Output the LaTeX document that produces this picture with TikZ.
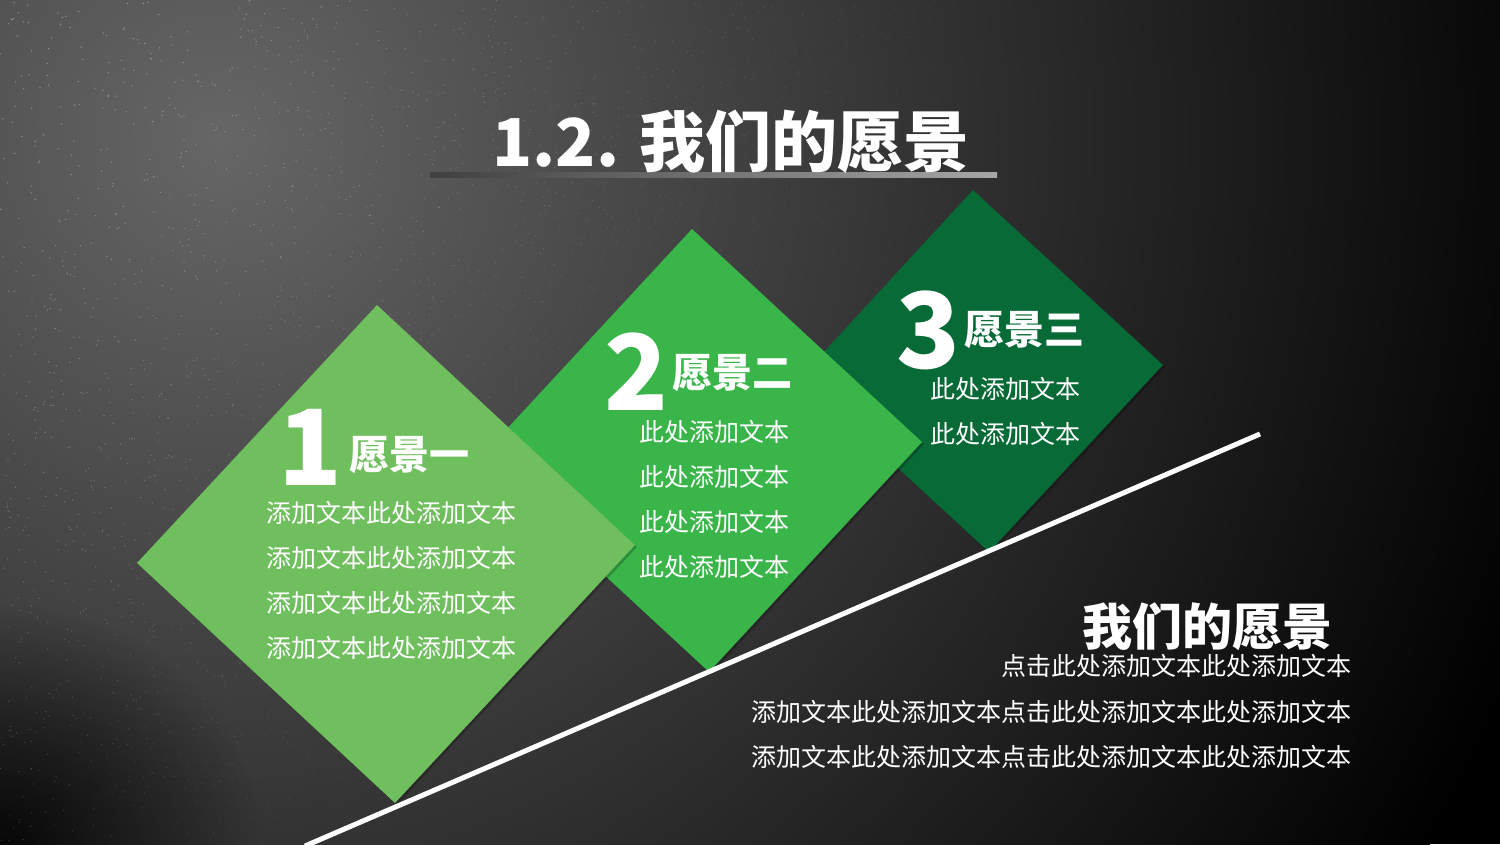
\documentclass[tikz,border=0pt]{standalone}
\usepackage{fontspec}
\setmainfont{Noto Sans CJK SC}
\usetikzlibrary{shadows,fadings}
\definecolor{gA}{HTML}{70BF5E}
\definecolor{gB}{HTML}{39B54A}
\definecolor{gC}{HTML}{076A37}
\definecolor{bgLight}{HTML}{666666}
\tikzfading[name=softdark, inner color=transparent!0, outer color=transparent!100]
\tikzset{
  numtxt/.style={text=white, font=\bfseries\fontsize{105}{105}\selectfont, inner sep=0pt},
  headtxt/.style={text=white, font=\bfseries\fontsize{40}{40}\selectfont, inner sep=0pt},
  bodytxt/.style={text=white, font=\fontsize{25}{25}\selectfont, inner sep=0pt},
  bigtitle/.style={text=white, font=\bfseries\fontsize{66}{66}\selectfont, inner sep=0pt},
  subtitle/.style={text=white, font=\bfseries\fontsize{50}{50}\selectfont, inner sep=0pt},
  diamondshade/.style={drop shadow={shadow xshift=2pt, shadow yshift=-2pt, opacity=0.22, fill=black}}
}
\begin{document}
\begin{tikzpicture}[x=1pt,y=-1pt]
\useasboundingbox (0,0) rectangle (1500,844);
% background
\begin{scope}
\clip (0,0) rectangle (1500,844);
\fill[black] (0,0) rectangle (1500,844);
\shade[inner color=bgLight, outer color=black] (220,140) circle (1400pt);
\fill[black, path fading=softdark, opacity=0.85] (0,844) ellipse (260pt and 240pt);
\pgfmathsetseed{11}
\foreach \i in {1,...,4500}{
  \pgfmathsetmacro\px{rnd*1500}
  \pgfmathsetmacro\py{rnd*844}
  \pgfmathsetmacro\op{max(0.02,0.42-0.00036*(\px+0.8*\py))}
  \fill[white, opacity=\op] (\px,\py) circle (0.7pt);
}
\end{scope}
% title underline
\shade[left color=gray!50!black, middle color=white, right color=gray!70] (430,172) rectangle (997,177);
\node[bigtitle] (title) at (731,142) {1.2. 我们的愿景};
% diamond coordinates
\coordinate (d1l) at (137,563); \coordinate (d1t) at (377,305);
\coordinate (d1r) at (635,545); \coordinate (d1b) at (395,803);
\coordinate (d2l) at (479,459); \coordinate (d2t) at (692,229);
\coordinate (d2r) at (922,442); \coordinate (d2b) at (709,672);
\coordinate (d3l) at (800,378); \coordinate (d3t) at (973,190);
\coordinate (d3r) at (1163,365); \coordinate (d3b) at (989,552);
\fill[gC, diamondshade] (d3l) -- (d3t) -- (d3r) -- (d3b) -- cycle;
\fill[gB, diamondshade] (d2l) -- (d2t) -- (d2r) -- (d2b) -- cycle;
\fill[gA, diamondshade] (d1l) -- (d1t) -- (d1r) -- (d1b) -- cycle;
% white line
\coordinate (ls) at (305,846);
\coordinate (le) at (1260,434);
\draw[white, line width=5pt] (ls) -- (le);
% diamond 1 text
\node[numtxt] (n1) at (310,447) {1};
\node[headtxt] (h1) at (409,455) {愿景一};
\node[bodytxt] (a1) at (391,513) {添加文本此处添加文本};
\node[bodytxt] (a2) at (391,558) {添加文本此处添加文本};
\node[bodytxt] (a3) at (391,603) {添加文本此处添加文本};
\node[bodytxt] (a4) at (391,648) {添加文本此处添加文本};
% diamond 2 text
\node[numtxt] (n2) at (636,372) {2};
\node[headtxt] (h2) at (732,373) {愿景二};
\node[bodytxt] (b1) at (714,432) {此处添加文本};
\node[bodytxt] (b2) at (714,477) {此处添加文本};
\node[bodytxt] (b3) at (714,522) {此处添加文本};
\node[bodytxt] (b4) at (714,567) {此处添加文本};
% diamond 3 text
\node[numtxt] (n3) at (928,330) {3};
\node[headtxt] (h3) at (1024,330) {愿景三};
\node[bodytxt] (c1) at (1005,389) {此处添加文本};
\node[bodytxt] (c2) at (1005,434) {此处添加文本};
% right block
\node[subtitle, anchor=east] (sub) at (1333,627) {我们的愿景};
\node[bodytxt, anchor=east] (r1) at (1352,666) {点击此处添加文本此处添加文本};
\node[bodytxt, anchor=east] (r2) at (1352,712) {添加文本此处添加文本点击此处添加文本此处添加文本};
\node[bodytxt, anchor=east] (r3) at (1352,757) {添加文本此处添加文本点击此处添加文本此处添加文本};
\end{tikzpicture}
\end{document}
